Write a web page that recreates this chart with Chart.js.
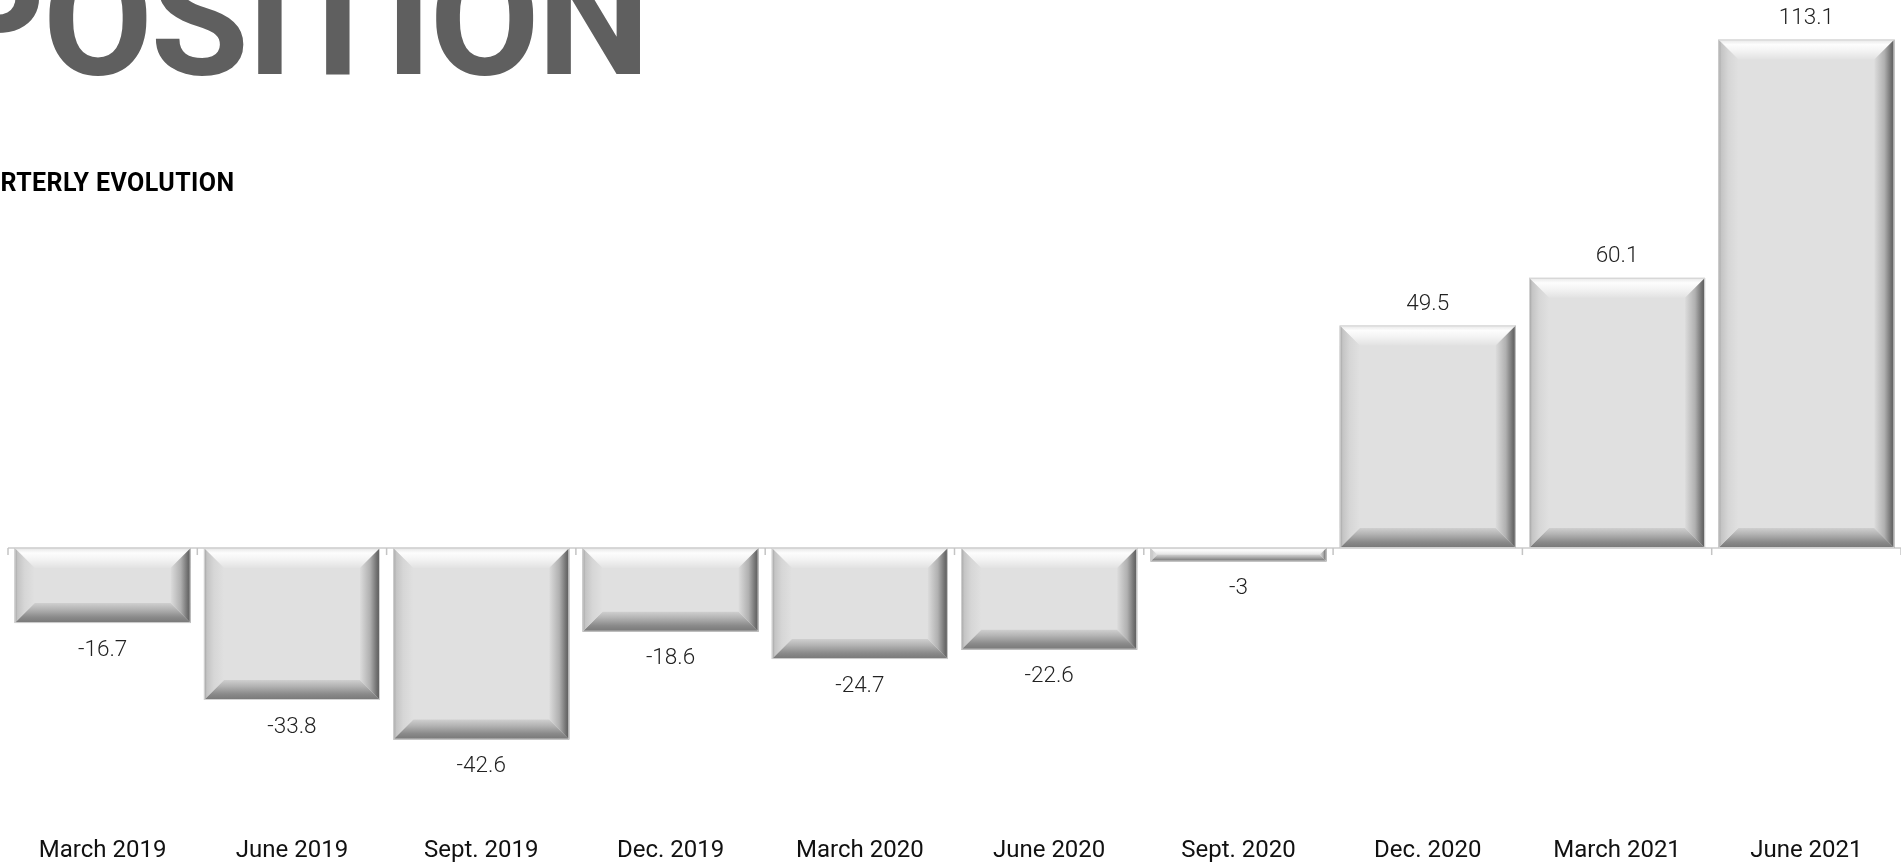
<!DOCTYPE html>
<html lang="en">
<head>
    <meta charset="UTF-8">
    <title>Position - quarterly evolution</title>
    <script src="https://cdn.jsdelivr.net/npm/chart.js"></script>
    <style>
        html, body {
            margin: 0;
            padding: 0;
            background: #fff;
            overflow: hidden;
        }
        .wrap {
            position: relative;
            width: 1901px;
            height: 863px;
        }
        .title {
            position: absolute;
            left: -58px;
            top: -60px;
            font-family: Roboto, sans-serif;
            font-weight: 700;
            font-size: 160px;
            letter-spacing: -2.5px;
            line-height: 1;
            color: #5f5f5f;
            white-space: nowrap;
            z-index: 2;
        }
        .subtitle {
            position: absolute;
            left: -51px;
            top: 170px;
            font-family: Roboto, sans-serif;
            font-weight: 700;
            font-size: 25px;
            letter-spacing: 0.4px;
            line-height: 1;
            color: #000;
            white-space: nowrap;
            z-index: 2;
        }
        canvas {
            position: absolute;
            left: 0;
            top: 0;
        }
    </style>
</head>
<body>
<div class="wrap">
    <div class="title">POSITION</div>
    <div class="subtitle">QUARTERLY EVOLUTION</div>
    <canvas id="chart" width="1901" height="863"></canvas>
</div>

<script>
    const quarters = ['March 2019', 'June 2019', 'Sept. 2019', 'Dec. 2019', 'March 2020',
        'June 2020', 'Sept. 2020', 'Dec. 2020', 'March 2021', 'June 2021'];
    const positionValues = [-16.7, -33.8, -42.6, -18.6, -24.7, -22.6, -3, 49.5, 60.1, 113.1];

    // zero line + little ticks between the quarters
    const zeroLine = {
        id: 'zeroLine',
        beforeDatasetsDraw(chart) {
            const ctx = chart.ctx;
            const xs = chart.scales.x;
            const y0 = chart.scales.y.getPixelForValue(0);
            const step = xs.width / quarters.length;
            ctx.save();
            ctx.strokeStyle = '#d8d8d8';
            ctx.lineWidth = 2;
            ctx.beginPath();
            ctx.moveTo(chart.chartArea.left, y0);
            ctx.lineTo(chart.chartArea.right, y0);
            ctx.stroke();
            ctx.strokeStyle = '#c4c4c4';
            ctx.lineWidth = 1.5;
            for (let i = 0; i <= quarters.length; i++) {
                const bx = xs.getPixelForValue(0) - step / 2 + i * step;
                ctx.beginPath();
                ctx.moveTo(bx, y0);
                ctx.lineTo(bx, y0 + 7);
                ctx.stroke();
            }
            ctx.restore();
        }
    };

    function grad(ctx, x0, y0, x1, y1, stops) {
        const g = ctx.createLinearGradient(x0, y0, x1, y1);
        stops.forEach(s => g.addColorStop(s[0], s[1]));
        return g;
    }

    function poly(ctx, pts, fill) {
        ctx.beginPath();
        ctx.moveTo(pts[0][0], pts[0][1]);
        for (let i = 1; i < pts.length; i++) ctx.lineTo(pts[i][0], pts[i][1]);
        ctx.closePath();
        ctx.fillStyle = fill;
        ctx.fill();
    }

    // bevel look on top of each bar, plus the value labels
    const bevelBars = {
        id: 'bevelBars',
        afterDatasetsDraw(chart) {
            const ctx = chart.ctx;
            const meta = chart.getDatasetMeta(0);
            ctx.save();
            meta.data.forEach((bar, i) => {
                const p = bar.getProps(['x', 'y', 'base', 'width'], true);
                const l = p.x - p.width / 2, r = p.x + p.width / 2;
                const t = Math.min(p.y, p.base), b = Math.max(p.y, p.base);
                const bv = Math.min(20, (b - t) / 2, p.width / 2);

                poly(ctx, [[l, t], [r, t], [r - bv, t + bv], [l + bv, t + bv]],
                    grad(ctx, 0, t, 0, t + bv, [[0, '#e6e6e6'], [0.25, '#fdfdfd'], [0.55, '#f4f4f4'], [1, '#e2e2e2']]));
                poly(ctx, [[l, b], [r, b], [r - bv, b - bv], [l + bv, b - bv]],
                    grad(ctx, 0, b, 0, b - bv, [[0, '#777'], [0.3, '#8a8a8a'], [0.7, '#b4b4b4'], [1, '#cfcfcf']]));
                poly(ctx, [[l, t], [l + bv, t + bv], [l + bv, b - bv], [l, b]],
                    grad(ctx, l, 0, l + bv, 0, [[0, '#9c9c9c'], [0.15, '#c4c4c4'], [0.5, '#d6d6d6'], [1, '#e0e0e0']]));
                poly(ctx, [[r, t], [r - bv, t + bv], [r - bv, b - bv], [r, b]],
                    grad(ctx, r - bv, 0, r, 0, [[0, '#dcdcdc'], [0.5, '#b0b0b0'], [0.85, '#6e6e6e'], [1, '#5a5a5a']]));

                ctx.strokeStyle = '#d4d4d4';
                ctx.lineWidth = 1;
                ctx.strokeRect(l + 0.5, t + 0.5, p.width - 1, b - t - 1);

                const v = positionValues[i];
                ctx.fillStyle = '#222';
                ctx.font = '300 22.5px Roboto';
                ctx.textAlign = 'center';
                ctx.textBaseline = 'middle';
                ctx.fillText(String(v), p.x, v >= 0 ? t - 21 : b + 27);
            });
            ctx.restore();
        }
    };

    new Chart(document.getElementById('chart'), {
        type: 'bar',
        data: {
            labels: quarters,
            datasets: [{
                data: positionValues,
                backgroundColor: '#e0e0e0',
                borderWidth: 0,
                categoryPercentage: 1,
                barPercentage: 0.93
            }]
        },
        options: {
            responsive: false,
            animation: false,
            layout: { padding: { top: 8.5, left: 8, right: 0, bottom: 0 } },
            plugins: {
                legend: { display: false },
                tooltip: { enabled: false }
            },
            scales: {
                x: {
                    grid: { display: false, drawTicks: false },
                    border: { display: false },
                    ticks: {
                        color: '#111',
                        padding: 19,
                        maxRotation: 0,
                        font: { family: 'Roboto', size: 24 }
                    },
                    afterFit(scale) {
                        scale.height = 45.2;
                    }
                },
                y: {
                    display: false,
                    min: -60,
                    max: 120
                }
            }
        },
        plugins: [zeroLine, bevelBars]
    });
</script>
</body>
</html>
